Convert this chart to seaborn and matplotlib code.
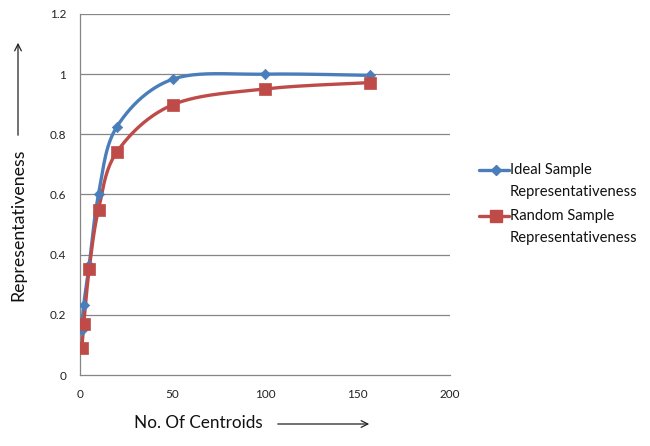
import numpy as np
import pandas as pd
import matplotlib
matplotlib.use("Agg")
import matplotlib.pyplot as plt
from matplotlib.lines import Line2D
from matplotlib.patches import FancyArrowPatch
import seaborn as sns

# ---- data ----
centroids_ideal = [1, 2, 5, 10, 20, 50, 100, 157]
ideal_values = [0.15, 0.233, 0.367, 0.60, 0.826, 0.983, 1.0, 0.996]
centroids_random = [1, 2, 5, 10, 20, 50, 100, 157]
random_values = [0.09, 0.168, 0.353, 0.55, 0.742, 0.898, 0.951, 0.972]
series_names = ["Ideal Sample\nRepresentativeness", "Random Sample\nRepresentativeness"]
x_ticks = [0, 50, 100, 150, 200]
y_ticks = [0, 0.2, 0.4, 0.6, 0.8, 1.0, 1.2]
y_tick_labels = ["0", "0.2", "0.4", "0.6", "0.8", "1", "1.2"]
x_label = "No. Of Centroids"
y_label = "Representativeness"

BLUE = "#4A7EBB"
RED = "#BE4B48"
GRID = "#868686"


def smooth(xs, ys, n=40):
    """Excel-like smoothed line (uniform Catmull-Rom / Bezier with 1/6 tension)."""
    P = np.column_stack([xs, ys]).astype(float)
    P = np.vstack([P[0], P, P[-1]])
    out = []
    for i in range(1, len(P) - 2):
        p0, p1, p2, p3 = P[i - 1], P[i], P[i + 1], P[i + 2]
        c1 = p1 + (p2 - p0) / 6.0
        c2 = p2 - (p3 - p1) / 6.0
        t = np.linspace(0, 1, n)[:, None]
        seg = ((1 - t) ** 3) * p1 + 3 * ((1 - t) ** 2) * t * c1 + 3 * (1 - t) * t ** 2 * c2 + t ** 3 * p2
        out.append(seg if i == 1 else seg[1:])
    arr = np.vstack(out)
    return arr[:, 0], arr[:, 1]


sns.set_style("white")
plt.rcParams["font.family"] = ["Lato", "DejaVu Sans"]

W, H = 650, 446
fig = plt.figure(figsize=(W / 100, H / 100), dpi=100)
ax = fig.add_axes([80 / W, 1 - 375 / H, 370 / W, (375 - 14) / H])

styles = [(BLUE, "D", 28, 5), (RED, "s", 70, 8)]
for xs, ys, (col, mk, ms, _) in zip([centroids_ideal, centroids_random],
                                     [ideal_values, random_values], styles):
    sx, sy = smooth(xs, ys)
    sns.lineplot(x=sx, y=sy, sort=False, estimator=None, color=col, lw=2.4, ax=ax, zorder=3)
    sns.scatterplot(x=xs, y=ys, marker=mk, s=ms, color=col, edgecolor=col, linewidth=0.5, ax=ax, zorder=4)

ax.set_xlim(0, 200)
ax.set_ylim(0, 1.2)
ax.set_xticks(x_ticks)
ax.set_yticks(y_ticks)
ax.set_yticklabels(y_tick_labels)
for y in y_ticks[1:]:
    ax.axhline(y, color=GRID, lw=0.9, zorder=1)
for s in ["top", "right"]:
    ax.spines[s].set_visible(False)
for s in ["left", "bottom"]:
    ax.spines[s].set_color(GRID)
    ax.spines[s].set_linewidth(0.9)
ax.tick_params(axis="both", direction="out", length=4, width=0.9, color=GRID,
               labelsize=8.5, labelcolor="#222222", pad=6)
ax.set_xlabel("")
ax.set_ylabel("")

# axis titles with arrows
fig.text(198 / W, 1 - 423 / H, x_label, ha="center", va="center", fontsize=12.3, color="#111111")
fig.patches.append(FancyArrowPatch(
    (275 / W, 1 - 424 / H), (372 / W, 1 - 424 / H), transform=fig.transFigure,
    arrowstyle="->", mutation_scale=12, lw=0.9, color="#222222"))
fig.text(18 / W, 1 - 225 / H, y_label, ha="center", va="center", rotation=90, fontsize=12.8, color="#111111")
fig.patches.append(FancyArrowPatch(
    (18 / W, 1 - 138 / H), (18 / W, 1 - 40 / H), transform=fig.transFigure,
    arrowstyle="->", mutation_scale=12, lw=0.9, color="#222222"))

# legend (Excel style: marker aligned with first text line)
entry_tops = [170, 216]
line_gap = 22
for name, top, (col, mk, _, msz) in zip(series_names, entry_tops, styles):
    fig.add_artist(Line2D([479 / W, 509 / W], [1 - top / H] * 2, transform=fig.transFigure,
                          color=col, lw=2.4))
    fig.add_artist(Line2D([496 / W], [1 - top / H], transform=fig.transFigure,
                          marker=mk, ms=msz, color=col, markeredgecolor=col))
    for k, line in enumerate(name.split("\n")):
        fig.text(510 / W, 1 - (top + k * line_gap) / H, line, ha="left", va="center",
                 fontsize=10.6, color="#111111")

fig.savefig("out.png", dpi=100)
